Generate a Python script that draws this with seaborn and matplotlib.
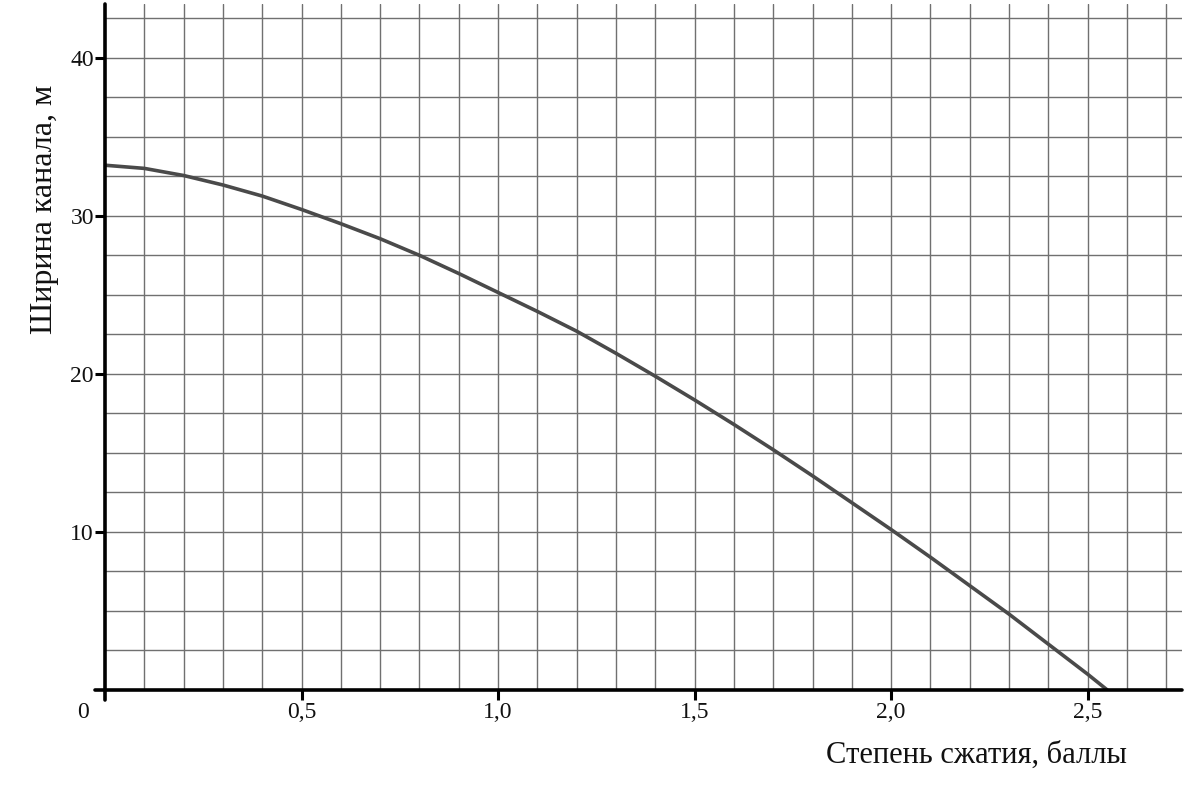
import numpy as np
import pandas as pd
import matplotlib
matplotlib.use("Agg")
import matplotlib.pyplot as plt
import seaborn as sns
from matplotlib.ticker import FuncFormatter

# Степень сжатия (баллы) и ширина канала (м)
compression = [0.0, 0.1, 0.2, 0.3, 0.4, 0.5, 0.6, 0.7, 0.8, 0.9, 1.0,
               1.1, 1.2, 1.3, 1.4, 1.5, 1.6, 1.7, 1.8, 1.9, 2.0,
               2.1, 2.2, 2.3, 2.4, 2.5, 2.55]
width = [33.2, 33.0, 32.55, 31.95, 31.25, 30.4, 29.5, 28.55, 27.5, 26.35, 25.15,
         23.95, 22.7, 21.3, 19.85, 18.35, 16.8, 15.2, 13.55, 11.85, 10.15,
         8.4, 6.6, 4.8, 2.9, 1.0, 0.0]

x_ticks = [0.5, 1.0, 1.5, 2.0, 2.5]
y_ticks = [10, 20, 30, 40]

df = pd.DataFrame({"compression": compression, "width": width})

sns.set_theme(style="white")
plt.rcParams['font.family'] = ['Liberation Serif', 'DejaVu Serif']

fig = plt.figure(figsize=(12, 8), dpi=100)
ax = fig.add_axes([0.0875, 0.1375, 0.8975, 0.8575])

sns.lineplot(data=df, x="compression", y="width", ax=ax,
             color="#4a4a4a", linewidth=2.6, zorder=5)

ax.set_xlim(0, 2.74)
ax.set_ylim(0, 43.4)

# клетка миллиметровки
ax.set_xticks(x_ticks)
ax.set_yticks(y_ticks)
ax.set_xticks(np.arange(0.1, 2.71, 0.1), minor=True)
ax.set_yticks(np.arange(2.5, 43, 2.5), minor=True)
ax.grid(True, which="both", color="#707070", linewidth=1.0)
ax.set_axisbelow(True)

ax.xaxis.set_major_formatter(FuncFormatter(lambda v, p: f"{v:.1f}".replace(".", ",")))
ax.tick_params(axis="both", which="major", direction="out", length=7, width=2.2,
               color="black", labelsize=17, labelcolor="#111111",
               bottom=True, left=True)
ax.tick_params(axis="x", which="major", pad=2)
ax.tick_params(axis="y", which="major", pad=1)
ax.tick_params(which="minor", length=0)

for side in ["top", "right", "left", "bottom"]:
    ax.spines[side].set_visible(False)

# оси, чуть выходящие за начало координат
ax.axhline(0, xmin=-0.009, xmax=1.0, color="black", linewidth=2.6, clip_on=False, zorder=6)
ax.axvline(0, ymin=-0.015, ymax=1.0, color="black", linewidth=2.6, clip_on=False, zorder=6)

ax.annotate("0", xy=(0, 0), xytext=(-16, -16.5), textcoords="offset points",
            ha="center", va="center", fontsize=17, color="#111111")

ax.set_xlabel("Степень сжатия, баллы", fontsize=22, color="#111111")
ax.xaxis.label.set_va("center")
ax.xaxis.set_label_coords(0.809, -0.095)
ax.set_ylabel("Ширина канала, м", fontsize=23, color="#111111")
ax.yaxis.label.set_va("center")
ax.yaxis.set_label_coords(-0.056, 0.70)

fig.savefig("out.png", dpi=100, facecolor="white")
